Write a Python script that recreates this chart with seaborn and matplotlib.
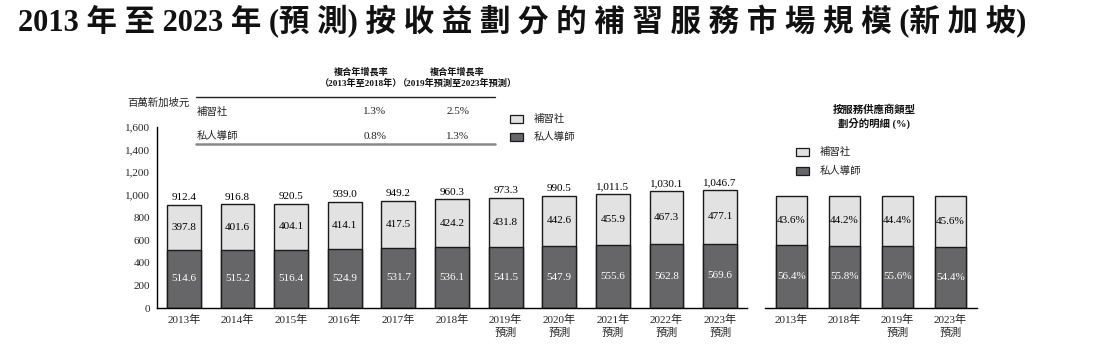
import numpy as np
import matplotlib
matplotlib.use("Agg")
import matplotlib.pyplot as plt
from matplotlib.patches import Rectangle
from matplotlib.lines import Line2D
import seaborn as sns

# ---------------- data ----------------
years = ["2013年", "2014年", "2015年", "2016年", "2017年", "2018年",
         "2019年\n預測", "2020年\n預測", "2021年\n預測", "2022年\n預測", "2023年\n預測"]
tuition_centre = [397.8, 401.6, 404.1, 414.1, 417.5, 424.2, 431.8, 442.6, 455.9, 467.3, 477.1]
private_tutor = [514.6, 515.2, 516.4, 524.9, 531.7, 536.1, 541.5, 547.9, 555.6, 562.8, 569.6]
totals = [912.4, 916.8, 920.5, 939.0, 949.2, 960.3, 973.3, 990.5, 1011.5, 1030.1, 1046.7]

share_years = ["2013年", "2018年", "2019年\n預測", "2023年\n預測"]
share_centre = [43.6, 44.2, 44.4, 45.6]
share_tutor = [56.4, 55.8, 55.6, 54.4]

series_names = ["補習社", "私人導師"]
cagr_header_1 = "複合年增長率\n（2013年至2018年）"
cagr_header_2 = "複合年增長率\n（2019年預測至2023年預測）"
cagr_1318 = ["1.3%", "0.8%"]
cagr_1923 = ["2.5%", "1.3%"]
yticks = [0, 200, 400, 600, 800, 1000, 1200, 1400, 1600]

title = "2013 年 至 2023 年 (預 測) 按 收 益 劃 分 的 補 習 服 務 市 場 規 模 (新 加 坡)"
unit_label = "百萬新加坡元"
share_title = "按服務供應商類型\n劃分的明細 (%)"

# ---------------- style ----------------
sns.set_theme(style="white")
FAM = ["Liberation Serif", "Noto Sans CJK TC"]
plt.rcParams["font.family"] = FAM
plt.rcParams["axes.unicode_minus"] = False

LIGHT = "#e2e2e2"
DARK = "#666668"
EDGE = "#1a1a1a"

W, H = 1102, 359
fig = plt.figure(figsize=(W / 100, H / 100), dpi=100)
fig.patch.set_facecolor("white")


def fx(x):
    return x / W


def fy(y):
    return 1 - y / H


# ---------------- left chart ----------------
ax = fig.add_axes([fx(157), (H - 308) / H, 590 / W, 181 / H])
sns.barplot(x=years, y=totals, color=LIGHT, edgecolor=EDGE, linewidth=1.0,
            width=0.63, saturation=1, ax=ax, order=years)
sns.barplot(x=years, y=private_tutor, color=DARK, edgecolor=EDGE, linewidth=1.0,
            width=0.63, saturation=1, ax=ax, order=years)
ax.set_xlim(-0.5, len(years) - 0.5)
ax.set_ylim(0, 1600)
ax.set_yticks(yticks)
ax.set_yticklabels([f"{v:,}" for v in yticks], fontsize=8)
ax.set_xticks(range(len(years)))
ax.set_xticklabels(years, fontsize=8, linespacing=1.35)
ax.set_xticks(np.arange(-0.5, len(years)), minor=True)
ax.tick_params(axis="x", which="major", length=0, pad=5)
ax.tick_params(axis="x", which="minor", length=4, direction="in", width=1, color="black")
ax.tick_params(axis="y", which="major", length=3, direction="out", width=1, color="black", pad=2)
ax.set_xlabel("")
ax.set_ylabel("")
for s in ["top", "right"]:
    ax.spines[s].set_visible(False)
for s in ["left", "bottom"]:
    ax.spines[s].set_color("black")
    ax.spines[s].set_linewidth(1.0)
ax.set_facecolor("white")

for i in range(len(years)):
    ax.annotate(f"{totals[i]:,.1f}", (i, totals[i]), xytext=(0, 2), textcoords="offset points",
                ha="center", va="bottom", fontsize=8, color="black")
    ax.text(i, private_tutor[i] + tuition_centre[i] / 2, f"{tuition_centre[i]:.1f}",
            ha="center", va="center", fontsize=8, color="black")
    ax.text(i, private_tutor[i] / 2, f"{private_tutor[i]:.1f}",
            ha="center", va="center", fontsize=8, color="white")

# ---------------- right chart ----------------
share_total = [a + b for a, b in zip(share_centre, share_tutor)]
ax2 = fig.add_axes([fx(765), (H - 308) / H, 212 / W, 181 / H])
sns.barplot(x=share_years, y=share_total, color=LIGHT, edgecolor=EDGE, linewidth=1.0,
            width=0.6, saturation=1, ax=ax2, order=share_years)
sns.barplot(x=share_years, y=share_tutor, color=DARK, edgecolor=EDGE, linewidth=1.0,
            width=0.6, saturation=1, ax=ax2, order=share_years)
ax2.set_xlim(-0.5, len(share_years) - 0.5)
ax2.set_ylim(0, 100 * 1600 / 990)
ax2.set_yticks([])
ax2.set_xticks(range(len(share_years)))
ax2.set_xticklabels(share_years, fontsize=8, linespacing=1.35)
ax2.set_xticks(np.arange(-0.5, len(share_years)), minor=True)
ax2.tick_params(axis="x", which="major", length=0, pad=5)
ax2.tick_params(axis="x", which="minor", length=4, direction="in", width=1, color="black")
ax2.set_xlabel("")
ax2.set_ylabel("")
for s in ["top", "right", "left"]:
    ax2.spines[s].set_visible(False)
ax2.spines["bottom"].set_color("black")
ax2.spines["bottom"].set_linewidth(1.0)
ax2.set_facecolor("white")
for i in range(len(share_years)):
    ax2.text(i, share_tutor[i] + share_centre[i] / 2, f"{share_centre[i]:.1f}%",
             ha="center", va="center", fontsize=8, color="black")
    ax2.text(i, share_tutor[i] / 2, f"{share_tutor[i]:.1f}%",
             ha="center", va="center", fontsize=8, color="white")

# ---------------- title ----------------
fig.text(fx(18), fy(22), title, ha="left", va="center", fontsize=22,
         fontweight="bold", color="#111111")

# ---------------- unit label ----------------
fig.text(fx(127), fy(103), unit_label, ha="left", va="center", fontsize=7.5, color="#222222")

# ---------------- CAGR table ----------------
fig.text(fx(361), fy(78), cagr_header_1, ha="center", va="center", fontsize=6.6,
         fontweight="bold", linespacing=1.3, color="#111111")
fig.text(fx(457), fy(78), cagr_header_2, ha="center", va="center", fontsize=6.6,
         fontweight="bold", linespacing=1.3, color="#111111")
fig.add_artist(Line2D([fx(196), fx(495)], [fy(97), fy(97)], color="#222222", lw=1.0))
fig.add_artist(Line2D([fx(196), fx(495)], [fy(144), fy(144)], color="#888888", lw=1.8))
row_y = [112, 136]
for k in range(len(series_names)):
    fig.text(fx(197), fy(row_y[k]), series_names[k], ha="left", va="center", fontsize=7.5, color="#222222")
    fig.text(fx(375), fy(row_y[k]), cagr_1318[k], ha="center", va="center", fontsize=8, color="#222222")
    fig.text(fx(458), fy(row_y[k]), cagr_1923[k], ha="center", va="center", fontsize=8, color="#222222")

# ---------------- legends ----------------
def legend(x0, ys, xt):
    cols = [LIGHT, DARK]
    for k in range(len(series_names)):
        fig.add_artist(Rectangle((fx(x0), fy(ys[k] + 4)), 13 / W, 8 / H,
                                 facecolor=cols[k], edgecolor=EDGE, lw=0.9,
                                 transform=fig.transFigure))
        fig.text(fx(xt), fy(ys[k]), series_names[k], ha="left", va="center",
                 fontsize=7.5, color="#222222")


legend(510, [119, 137], 534)
legend(796, [152, 171], 820)

fig.text(fx(874), fy(117), share_title, ha="center", va="center", fontsize=7.5,
         fontweight="bold", linespacing=1.3, color="#111111")

fig.savefig("out.png", dpi=100, facecolor="white")
